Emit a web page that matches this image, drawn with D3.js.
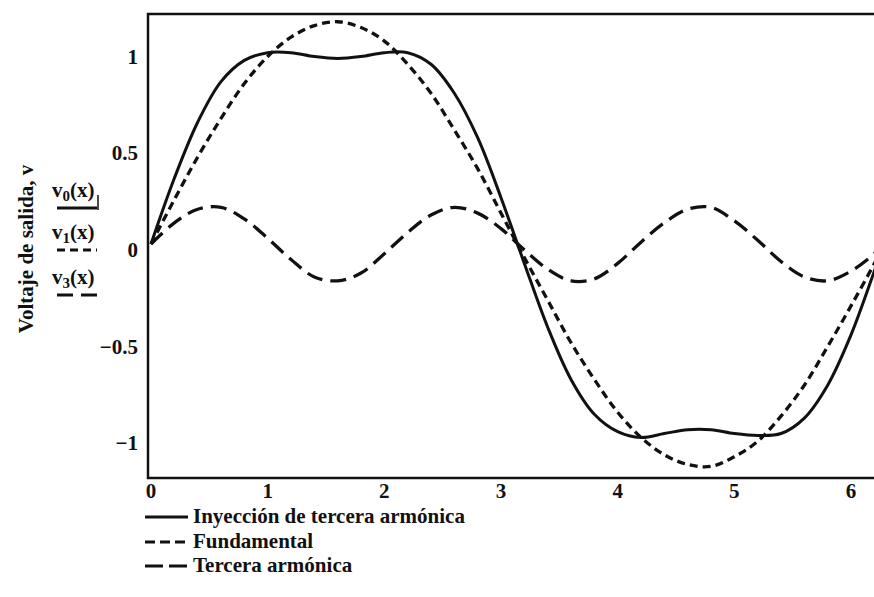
<!DOCTYPE html>
<html>
<head>
<meta charset="utf-8">
<script src="https://cdn.jsdelivr.net/npm/d3@7"></script>
<style>
    body { margin: 0; background: #fff; }
    svg { display: block; }
    text { font-family: "Liberation Serif", "DejaVu Serif", serif; font-weight: bold; fill: #111; }
</style>
</head>
<body>
<svg id="chart" width="874" height="597"></svg>
<script>
// angle x (rad), every 0.2
const xs = [0, 0.2, 0.4, 0.6, 0.8, 1.0, 1.2, 1.4, 1.6, 1.8, 2.0, 2.2, 2.4, 2.6, 2.8, 3.0,
    3.2, 3.4, 3.6, 3.8, 4.0, 4.2, 4.4, 4.6, 4.8, 5.0, 5.2, 5.4, 5.6, 5.8, 6.0, 6.2, 6.28];

// v0: inyeccion de tercera armonica (solid)
const v0 = [0, 0.34, 0.63, 0.84, 0.95, 0.99, 0.99, 0.97, 0.96, 0.97, 0.99, 0.99, 0.93, 0.78, 0.55, 0.24,
    -0.10, -0.43, -0.70, -0.88, -0.97, -1.00, -0.98, -0.96, -0.96, -0.98, -0.99, -0.98, -0.90, -0.73, -0.47, -0.14, 0];

// v1: fundamental (short dashes)
const v1 = [0, 0.23, 0.45, 0.65, 0.83, 0.97, 1.07, 1.13, 1.15, 1.12, 1.05, 0.93, 0.78, 0.59, 0.39, 0.16,
    -0.07, -0.29, -0.51, -0.70, -0.87, -1.00, -1.09, -1.14, -1.15, -1.10, -1.02, -0.89, -0.73, -0.53, -0.32, -0.10, 0];

// v3: tercera armonica (long dashes)
const v3 = [0, 0.11, 0.18, 0.19, 0.13, 0.03, -0.08, -0.17, -0.19, -0.15, -0.05, 0.06, 0.15, 0.19, 0.16, 0.08,
    -0.03, -0.13, -0.19, -0.18, -0.10, 0.01, 0.11, 0.18, 0.19, 0.12, 0.02, -0.09, -0.17, -0.19, -0.14, -0.05, 0];

const xTicks = [0, 1, 2, 3, 4, 5, 6];
const yTicks = [1, 0.5, 0, -0.5, -1];
const yTickLabels = ["1", "0.5", "0", "\u22120.5", "\u22121"];

const legendNames = ["Inyección de tercera armónica", "Fundamental", "Tercera armónica"];
const sideNames = ["0", "1", "3"];

const svg = d3.select("#chart");
const width = +svg.attr("width");

// frame box in pixels
const frame = { left: 148, top: 14, bottom: 478 };

const x = d3.scaleLinear().domain([0, 6]).range([151, 851]);
const y = d3.scaleLinear().domain([-1.21, 1.19]).range([frame.bottom, frame.top]);

const styles = [
    { dash: null, width: 3 },
    { dash: "8,5", width: 3.3 },
    { dash: "16,8", width: 3.3 }
];

svg.append("defs").append("clipPath").attr("id", "clip")
    .append("rect")
    .attr("x", frame.left)
    .attr("y", frame.top)
    .attr("width", width - frame.left)
    .attr("height", frame.bottom - frame.top);

// frame lines: top, left, bottom (right side runs off the page)
svg.append("path")
    .attr("d", `M${width},${frame.top}H${frame.left}V${frame.bottom}H${width}`)
    .attr("fill", "none")
    .attr("stroke", "#111")
    .attr("stroke-width", 2.5);

// curves
const line = d3.line()
    .x((d, i) => x(xs[i]))
    .y(d => y(d))
    .curve(d3.curveCatmullRom);

const plot = svg.append("g").attr("clip-path", "url(#clip)");

[v3, v1, v0].forEach((series, k) => {
    const s = styles[2 - k];
    plot.append("path")
        .datum(series)
        .attr("d", line)
        .attr("fill", "none")
        .attr("stroke", "#111")
        .attr("stroke-width", s.width)
        .attr("stroke-dasharray", s.dash)
        .attr("stroke-linejoin", "round");
});

// x tick labels
svg.append("g").selectAll("text")
    .data(xTicks)
    .join("text")
    .attr("x", d => x(d))
    .attr("y", 498)
    .attr("text-anchor", "middle")
    .style("font-size", "21px")
    .text(d => d);

// y tick labels
svg.append("g").selectAll("text")
    .data(yTicks)
    .join("text")
    .attr("x", 138)
    .attr("y", d => y(d) + 13)
    .attr("text-anchor", "end")
    .style("font-size", "21px")
    .text((d, i) => yTickLabels[i]);

// y axis title
svg.append("text")
    .attr("transform", "translate(33,249) rotate(-90)")
    .attr("text-anchor", "middle")
    .style("font-size", "21px")
    .text("Voltaje de salida, v");

// side key: v0(x), v1(x), v3(x) with their line samples
const sideBase = [197, 239, 284];
const side = svg.append("g");
sideNames.forEach((n, i) => {
    const t = side.append("text")
        .attr("x", 52)
        .attr("y", sideBase[i])
        .style("font-size", "21px");
    t.append("tspan").text("v");
    t.append("tspan").attr("dy", 4).style("font-size", "15px").text(n);
    t.append("tspan").attr("dy", -4).text("(x)");

    side.append("line")
        .attr("x1", 57).attr("x2", 97)
        .attr("y1", sideBase[i] + 11).attr("y2", sideBase[i] + 11)
        .attr("stroke", "#111")
        .attr("stroke-width", 3)
        .attr("stroke-dasharray", styles[i].dash);
});
side.append("line")
    .attr("x1", 98).attr("x2", 98).attr("y1", 195).attr("y2", 210)
    .attr("stroke", "#111").attr("stroke-width", 1.5);

// bottom legend
const legendBase = [523, 548, 572];
const legend = svg.append("g");
legendNames.forEach((n, i) => {
    legend.append("line")
        .attr("x1", 145).attr("x2", 188)
        .attr("y1", legendBase[i] - 6).attr("y2", legendBase[i] - 6)
        .attr("stroke", "#111")
        .attr("stroke-width", 3)
        .attr("stroke-dasharray", i === 1 ? "10,5" : i === 2 ? "18,6" : null);
    legend.append("text")
        .attr("x", 193)
        .attr("y", legendBase[i])
        .style("font-size", "21px")
        .text(n);
});
</script>
</body>
</html>
